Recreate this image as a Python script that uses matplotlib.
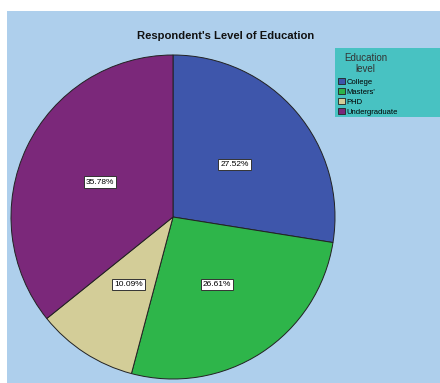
import numpy as np
import matplotlib.pyplot as plt
from matplotlib.patches import Rectangle, Patch

# Share of respondents by education level
levels = ["College", "Masters'", "PHD", "Undergraduate"]
percents = [27.52, 26.61, 10.09, 35.78]
colors = ["#3E56AB", "#2EB54A", "#D3CD98", "#7B287A"]

plt.rcParams["font.family"] = ["Liberation Sans", "DejaVu Sans"]

fig = plt.figure(figsize=(4.4, 3.83), dpi=100, facecolor="white")

# light blue chart area
fig.patches.append(Rectangle((7 / 440, 0), 433 / 440, 372 / 383,
                             transform=fig.transFigure, facecolor="#AECFEC",
                             edgecolor="none", zorder=-2))
# teal legend panel reaching the right edge
fig.patches.append(Rectangle((335 / 440, 1 - 117 / 383), 105 / 440, 69 / 383,
                             transform=fig.transFigure, facecolor="#48C2C2",
                             edgecolor="none", zorder=-1))

ax = fig.add_axes([11 / 440, 4 / 383, 324 / 440, 324 / 383])
ax.patch.set_visible(False)
wedges, texts = ax.pie(percents, colors=colors, startangle=90, counterclock=False,
                       wedgeprops=dict(edgecolor="#222222", linewidth=0.7))
ax.set_xlim(-1, 1)
ax.set_ylim(-1, 1)
ax.set_aspect("equal")

# percentage labels in white boxes halfway out along each slice
angle = 90.0
for p in percents:
    mid = np.deg2rad(angle - p * 3.6 / 2)
    ax.text(0.5 * np.cos(mid), 0.5 * np.sin(mid), f"{p:.2f}%", ha="center", va="center",
            fontsize=6, bbox=dict(boxstyle="square,pad=0.25", facecolor="white",
                                  edgecolor="#333333", linewidth=0.7))
    angle -= p * 3.6

fig.text(226 / 440, 1 - 36 / 383, "Respondent's Level of Education", ha="center",
         va="center", fontsize=8.1, fontweight="bold", color="#111111")

handles = [Patch(facecolor=c, edgecolor="#222222", linewidth=0.6) for c in colors]
leg = fig.legend(handles, levels, title="Education\nlevel", loc="upper left",
                 bbox_to_anchor=(335 / 440, 1 - 50 / 383), fontsize=5.5,
                 title_fontsize=7, frameon=False,
                 handlelength=0.9, handleheight=0.9, handletextpad=0.2,
                 labelspacing=0.28, borderpad=0.4, borderaxespad=0)
leg.get_title().set_color("#333333")
leg.get_title().set_linespacing(1.1)
leg._legend_box.align = "left"
leg.get_title().set_ha("center")
leg._legend_box.sep = 3

fig.canvas.draw()
# nudge the title block towards the middle of the entries
leg.get_title().set_x(leg.get_title().get_position()[0] + 6)

fig.savefig("out.png", dpi=100, facecolor="white")
